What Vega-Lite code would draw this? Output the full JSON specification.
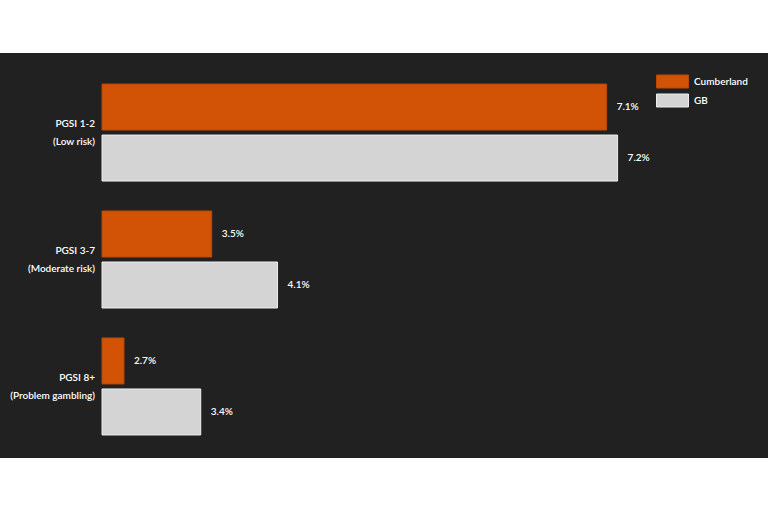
{
  "$schema": "https://vega.github.io/schema/vega-lite/v6.json",
  "width": 768,
  "height": 405,
  "autosize": {"type": "none"},
  "padding": {"top": 53, "bottom": 54, "left": 0, "right": 0},
  "background": "#ffffff",
  "view": {"fill": "#212121", "stroke": null},
  "config": {"font": "Lato"},
  "data": {
    "values": [
      {"group": "PGSI 1-2\n(Low risk)", "area": "Cumberland", "value": 7.1, "label": "7.1%"},
      {"group": "PGSI 1-2\n(Low risk)", "area": "GB", "value": 7.2, "label": "7.2%"},
      {"group": "PGSI 3-7\n(Moderate risk)", "area": "Cumberland", "value": 3.5, "label": "3.5%"},
      {"group": "PGSI 3-7\n(Moderate risk)", "area": "GB", "value": 4.1, "label": "4.1%"},
      {"group": "PGSI 8+\n(Problem gambling)", "area": "Cumberland", "value": 2.7, "label": "2.7%"},
      {"group": "PGSI 8+\n(Problem gambling)", "area": "GB", "value": 3.4, "label": "3.4%"}
    ]
  },
  "encoding": {
    "y": {
      "field": "group",
      "type": "nominal",
      "sort": null,
      "axis": null,
      "scale": {"paddingInner": 0.236, "paddingOuter": 0.213, "align": 0.574}
    },
    "yOffset": {
      "field": "area",
      "type": "nominal",
      "sort": ["Cumberland", "GB"],
      "scale": {"paddingInner": 0.098, "paddingOuter": 0}
    }
  },
  "layer": [
    {
      "mark": {"type": "bar", "strokeWidth": 1},
      "encoding": {
        "x": {
          "field": "value",
          "type": "quantitative",
          "axis": null,
          "scale": {"domain": [1.57, 8.571], "zero": false, "nice": false}
        },
        "x2": {"datum": 2.5},
        "color": {
          "field": "area",
          "type": "nominal",
          "scale": {"domain": ["Cumberland", "GB"], "range": ["#d35306", "#d4d4d4"]},
          "legend": {
            "title": null,
            "orient": "none",
            "legendX": 662,
            "legendY": 18,
            "symbolType": "M-1.6,-0.65H1.6V0.65H-1.6Z",
            "symbolSize": 400,
            "symbolStrokeWidth": 1,
            "symbolStrokeColor": "#bbbbbb",
            "labelColor": "#ffffff",
            "labelFontSize": 10,
            "labelFontWeight": 600,
            "labelOffset": 11,
            "rowPadding": 0
          }
        },
        "stroke": {
          "field": "area",
          "type": "nominal",
          "scale": {"domain": ["Cumberland", "GB"], "range": ["#b84a08", "#eeeeee"]},
          "legend": null
        }
      }
    },
    {
      "mark": {"type": "text", "align": "left", "baseline": "middle", "dx": 10, "fontSize": 10, "fontWeight": 600, "color": "#ffffff"},
      "encoding": {
        "x": {"field": "value", "type": "quantitative"},
        "text": {"field": "label"}
      }
    },
    {
      "transform": [{"filter": "datum.area === 'Cumberland'"}],
      "mark": {"type": "text", "align": "right", "baseline": "middle", "lineBreak": "\n", "lineHeight": 18, "fontSize": 10, "fontWeight": 600, "color": "#ffffff"},
      "encoding": {
        "x": {"datum": 2.436},
        "yOffset": {"value": 40},
        "text": {"field": "group"}
      }
    }
  ]
}
